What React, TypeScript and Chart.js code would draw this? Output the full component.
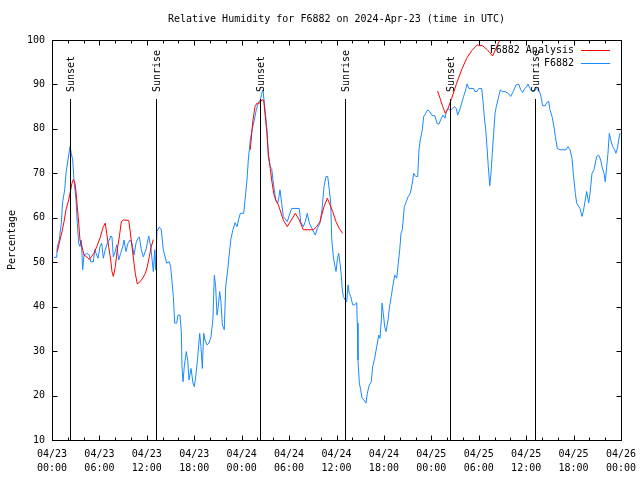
import React, { useEffect, useRef } from 'react';
import { Chart, registerables } from 'chart.js';

Chart.register(...registerables);

const TITLE = 'Relative Humidity for F6882 on 2024-Apr-23 (time in UTC)';
const Y_LABEL = 'Percentage';
const Y_MIN = 10;
const Y_MAX = 100;
const X_MIN = 0;
const X_MAX = 72;
const X_TICK_HOURS = [0, 6, 12, 18, 24, 30, 36, 42, 48, 54, 60, 66, 72];
const X_TICK_LABELS = [
  ['04/23', '00:00'], ['04/23', '06:00'], ['04/23', '12:00'], ['04/23', '18:00'],
  ['04/24', '00:00'], ['04/24', '06:00'], ['04/24', '12:00'], ['04/24', '18:00'],
  ['04/25', '00:00'], ['04/25', '06:00'], ['04/25', '12:00'], ['04/25', '18:00'],
  ['04/26', '00:00'],
];
const SUN_EVENT_HOURS = [2.32, 13.2, 26.36, 37.11, 50.4, 61.15];
const SUN_EVENT_LABELS = ['Sunset', 'Sunrise', 'Sunset', 'Sunrise', 'Sunset', 'Sunrise'];

const SERIES_NAMES = ['F6882 Analysis', 'F6882'];
const SERIES_COLORS = ['#ff0000', '#1a88ff'];

// F6882 Analysis (hours since 04/23 00:00 UTC), null = gap
const ANALYSIS_HOURS = [
  0.67, 1.01, 1.27, 1.52, 1.77, 2.11, 2.37, 2.53, 2.7, 2.87, 3.04, 3.2, 3.38, 3.54, 3.8, 4.05,
  4.39, 4.72, 4.97, 5.31, 5.66, 6.07, 6.49, 6.74, 6.92, 7.17, 7.43, 7.59, 7.76, 8.01, 8.26, 8.52,
  8.77, 9.02, 9.71, 9.87, 10.12, 10.38, 10.54, 10.79, 11.14, 11.48, 11.81, 12.06, 12.31, 12.56, 12.82,
  13.5,
  25.09, 25.27, 25.43, 25.69, 25.94, 26.28, 26.54, 26.79, 26.95, 27.2, 27.37, 27.62, 27.8, 28.05,
  28.31, 28.64, 28.85, 29.27, 29.77, 30.28, 30.79, 31.29, 31.8, 33.06, 33.49, 33.91, 34.42, 34.84,
  35.18, 35.52, 35.94, 36.35, 36.78,
  40,
  48.8, 49.1, 49.44, 49.77, 50.11, 50.58, 51.21, 51.84, 52.47, 53.11, 53.82, 54.5, 55.08, 55.76,
  56.18, 56.69, 57.2,
];
const ANALYSIS_VALUES = [
  52.4, 55, 56.9, 59.1, 61.8, 64, 66.3, 67.8, 68.6, 68.1, 65.9, 62.5, 58.8, 55, 53.5, 51.6,
  51.2, 50.6, 51.2, 52, 53.5, 55.4, 58, 58.8, 56.5, 53.5, 50.5, 47.9, 46.8, 49, 52.8, 55.7,
  59.1, 59.5, 59.4, 57.3, 53.5, 49.8, 47.5, 45.1, 45.6, 46.4, 47.5, 49, 51.2, 53.5, 55.1,
  null,
  75.3, 79, 82, 85, 85.8, 85.8, 86.5, 86.5, 83.5, 79, 74.5, 71.1, 68.5, 65.5,
  64, 62.9, 61.8, 59.5, 58, 59.5, 61, 59.5, 57.3, 57.3, 58, 59.1, 62.5, 64.4,
  62.9, 61.4, 59.1, 57.6, 56.5,
  null,
  88.5, 86.9, 85, 83.5, 84.6, 86.9, 90.3, 93.3, 95.9, 97.6, 98.9, 98.7, 97.8, 96.4,
  98.1, 100.1, 102,
];

// F6882 observations
const OBS_HOURS = [
  0.25, 0.59, 0.67, 0.92, 1.18, 1.35, 1.61, 1.77, 2.02, 2.28, 2.44, 2.62, 2.78, 3.04, 3.2, 3.38,
  3.54, 3.71, 3.88, 4.05, 4.39, 4.72, 4.9, 5.23, 5.4, 5.66, 5.82, 6.07, 6.29, 6.49, 6.74, 7.0,
  7.25, 7.43, 7.59, 7.76, 8.01, 8.19, 8.44, 8.69, 8.95, 9.11, 9.36, 9.62, 9.87, 10.12, 10.38, 10.63,
  10.88, 11.05, 11.3, 11.55, 11.89, 12.24, 12.49, 12.82, 13.0, 13.1, 13.29, 13.58, 13.83, 14.08,
  14.26, 14.51, 14.84, 15.02, 15.35, 15.53, 15.78, 15.94, 16.2, 16.36, 16.45, 16.58, 16.74, 16.99,
  17.17, 17.34, 17.59, 17.84, 18.01, 18.18, 18.44, 18.69, 18.85, 19.02, 19.2, 19.36, 19.61, 19.87,
  20.12, 20.37, 20.54, 20.71, 20.88, 21.04, 21.22, 21.38, 21.55, 21.8, 21.98, 22.23, 22.49, 22.65,
  22.9, 23.16, 23.41, 23.66, 23.83, 24.26, 24.51, 24.67, 24.84, 25.09, 25.35, 25.6, 25.85, 26.1,
  26.36, 26.54, 26.7, 26.86, 27.04, 27.2, 27.37, 27.62, 27.8, 27.96, 28.13, 28.31, 28.56, 28.72,
  28.85, 29.06, 29.27, 29.61, 29.77, 30.03, 30.33, 31.29, 31.47, 31.8, 32.05, 32.3, 32.56, 32.9,
  33.32, 33.57, 33.91, 34.16, 34.42, 34.67, 34.89, 35.09, 35.27, 35.39, 35.6, 35.77, 35.94, 36.1,
  36.28, 36.44, 36.61, 36.7, 36.86, 37.11, 37.29, 37.46, 37.62, 37.8, 38.05, 38.3, 38.56, 38.63,
  38.72, 38.89, 39.06, 39.23, 39.48, 39.73, 39.9, 40.15, 40.4, 40.58, 40.83, 41.09, 41.34, 41.5,
  41.67, 41.76, 41.92, 42.1, 42.26, 42.52, 42.68, 42.93, 43.11, 43.36, 43.62, 43.82, 44.0, 44.16,
  44.33, 44.58, 44.83, 45.08, 45.34, 45.59, 45.77, 46.02, 46.27, 46.44, 46.6, 46.86, 47.03, 47.29,
  47.54, 47.79, 48.05, 48.46, 48.72, 48.97, 49.22, 49.48, 49.73, 49.89, 50.15, 50.4, 50.65, 50.91,
  51.16, 51.33, 51.59, 51.84, 52.09, 52.35, 52.51, 52.77, 53.02, 53.36, 53.52, 53.78, 54.03, 54.37,
  54.54, 54.7, 54.88, 55.04, 55.21, 55.39, 55.55, 55.71, 55.89, 56.06, 56.22, 56.47, 56.73, 56.98,
  57.32, 57.74, 58.04, 58.37, 58.71, 59.05, 59.31, 59.56, 59.81, 60.07, 60.23, 60.48, 60.74, 60.99,
  61.33, 61.59, 61.84, 62.09, 62.42, 62.6, 62.85, 63.01, 63.27, 63.52, 63.69, 63.94, 64.28, 65.04,
  65.29, 65.55, 65.8, 65.96, 66.22, 66.39, 66.65, 66.81, 67.06, 67.23, 67.48, 67.66, 67.91, 68.08,
  68.33, 68.58, 68.92, 69.18, 69.43, 69.6, 69.85, 70.01, 70.19, 70.35, 70.52, 70.7, 70.95, 71.2,
  71.36, 71.53, 71.71, 71.87,
];
const OBS_VALUES = [
  51.1, 51.1, 53.5, 55, 58.8, 63.6, 66.3, 70, 73, 76, 74.5, 73, 68.5, 64, 58.8, 54.3,
  53.5, 55, 48.3, 51.6, 52, 51.6, 50.1, 50.1, 52.8, 51.6, 50.9, 53.5, 54.3, 50.9, 52.8, 54.3,
  55, 55.9, 55.7, 51.2, 52.4, 53.9, 50.5, 52, 53.5, 55, 52.4, 54.3, 55, 54.3, 51.6, 54.3,
  55.4, 55.7, 52.8, 51.2, 52.8, 55.9, 53.5, 47.9, 52.8, 48.3, 57, 57.9, 57.3, 52.8,
  51.6, 49.8, 50.1, 49, 42.3, 36.3, 36.3, 38.1, 38.1, 34.4, 26.5, 23.1, 26.5, 29.9,
  28, 23.5, 26.1, 22.8, 22, 24.2, 28.7, 34, 31, 26.1, 34, 32.5, 31.4, 31.8,
  33.2, 37.4, 47.1, 44.5, 38.1, 40, 43.4, 41.1, 35.9, 34.8, 44.5, 48.3, 52.8, 55.4,
  57.3, 58.9, 58, 59.9, 61, 61, 65.5, 68.5, 73, 77.5, 80.1, 82, 84.3, 85.8,
  86.5, 88, 88.8, 85.8, 82.8, 79.8, 73.8, 71.5, 71.1, 68.5, 66.3, 64, 63.3, 64.8,
  66.3, 63.3, 60.3, 59.5, 59.1, 60.6, 62.1, 62.1, 59.1, 58, 59.1, 61, 58.8, 57.6,
  56.1, 57.6, 58.8, 61.8, 67, 69.3, 69.3, 66.3, 63.3, 55.4, 51.2, 49.4, 47.9, 50.5,
  52, 49.8, 47.1, 44.5, 42.3, 41.5, 41.1, 44.9, 43, 42.3, 40.4, 40.4, 40.9, 36.3,
  28, 22.8, 21.3, 19.4, 19, 18.3, 20.5, 22.4, 23.1, 26.5, 28.4, 31, 33.6, 32.9,
  37, 40.8, 38.5, 35.5, 34.4, 37, 39.6, 42.3, 44.5, 47.1, 46.4, 49.8, 52.8, 56.5,
  57.3, 62.5, 63.6, 64.8, 65.5, 67.8, 70, 69.3, 69.3, 75.3, 77.5, 79.8, 82.8, 83.5,
  84.3, 83.9, 83.1, 82.9, 81.2, 81.1, 82.2, 83.1, 82.4, 83.9, 84.6, 84.1, 84.6, 85,
  84.6, 83.1, 84.3, 85.8, 87.3, 88.8, 90.1, 89.1, 89.1, 89.1, 88.4, 88.4, 89.1, 89.1,
  86.2, 82.8, 79.8, 76, 71.5, 67.2, 70, 74.5, 79, 83.5, 85, 86.9, 88.8, 88.4,
  88.4, 88, 87.3, 88.4, 89.9, 90.1, 88.8, 88.2, 89.1, 89.5, 90.1, 89.1, 88.4, 88.4,
  89.1, 88.8, 87.6, 85.2, 85.2, 85.9, 86.2, 84.3, 82.8, 80.5, 78.3, 75.6, 75.3, 75.3,
  76, 75.3, 73.4, 70, 65.5, 63.3, 62.5, 62.1, 60.3, 61.4, 64, 65.9, 63.3, 65.5,
  70, 70.8, 73.8, 74.1, 73, 71.5, 70, 68.1, 71.5, 74.5, 79, 77.5, 76, 75.3,
  74.5, 75.6, 77.5, 79,
];

const FONT = "'DejaVu Sans Mono', monospace";

const toPoints = (xs: number[], ys: (number | null)[]) => xs.map((x, i) => ({ x, y: ys[i] }));

const overlayPlugin = {
  id: 'gnuplotOverlay',
  afterDatasetsDraw(chart: any) {
    const { ctx, chartArea: ca, scales } = chart;
    const x = scales.x;
    const y = scales.y;
    ctx.save();
    ctx.strokeStyle = '#000';
    ctx.fillStyle = '#000';
    ctx.lineWidth = 1;
    ctx.font = `10px ${FONT}`;

    // frame
    const L = Math.round(ca.left) + 0.5;
    const R = Math.round(ca.right) + 0.5;
    const T = Math.round(ca.top) + 0.5;
    const B = Math.round(ca.bottom) + 0.5;
    ctx.strokeRect(L, T, R - L, B - T);

    // x ticks (major every 6h, minor every 2h) on bottom and top, pointing inward
    ctx.beginPath();
    for (let h = X_MIN; h <= X_MAX; h += 2) {
      const len = h % 6 === 0 ? 5 : 3;
      const px = Math.round(x.getPixelForValue(h)) + 0.5;
      ctx.moveTo(px, B);
      ctx.lineTo(px, B - len);
      ctx.moveTo(px, T);
      ctx.lineTo(px, T + len);
    }
    // y ticks left and right
    for (let v = Y_MIN; v <= Y_MAX; v += 10) {
      const py = Math.round(y.getPixelForValue(v)) + 0.5;
      ctx.moveTo(L, py);
      ctx.lineTo(L + 5, py);
      ctx.moveTo(R, py);
      ctx.lineTo(R - 5, py);
    }
    ctx.stroke();

    // sunrise / sunset markers
    SUN_EVENT_HOURS.forEach((h, i) => {
      const px = Math.round(x.getPixelForValue(h)) + 0.5;
      ctx.beginPath();
      ctx.moveTo(px, ca.top + 59);
      ctx.lineTo(px, B);
      ctx.stroke();
      ctx.save();
      ctx.translate(px + 1, ca.top + 52);
      ctx.rotate(-Math.PI / 2);
      ctx.textAlign = 'left';
      ctx.textBaseline = 'middle';
      ctx.fillText(SUN_EVENT_LABELS[i], 0, 0);
      ctx.restore();
    });

    // title
    ctx.textAlign = 'center';
    ctx.textBaseline = 'middle';
    ctx.fillText(TITLE, (ca.left + ca.right) / 2, 19);

    // legend (gnuplot style: right-aligned text, then line sample)
    SERIES_NAMES.forEach((name, i) => {
      const ly = ca.top + 10 + i * 13;
      ctx.textAlign = 'right';
      ctx.fillStyle = '#000';
      ctx.fillText(name, ca.right - 47, ly);
      ctx.strokeStyle = SERIES_COLORS[i];
      ctx.beginPath();
      ctx.moveTo(ca.right - 40, Math.round(ly) + 0.5);
      ctx.lineTo(ca.right - 11, Math.round(ly) + 0.5);
      ctx.stroke();
    });
    ctx.restore();
  },
};

export default function App() {
  const canvasRef = useRef<HTMLCanvasElement | null>(null);

  useEffect(() => {
    if (!canvasRef.current) return;
    Chart.defaults.font.family = FONT;
    Chart.defaults.font.size = 10;
    Chart.defaults.color = '#000';
    const chart = new Chart(canvasRef.current, {
      type: 'line',
      data: {
        datasets: [
          {
            label: SERIES_NAMES[0],
            data: toPoints(ANALYSIS_HOURS, ANALYSIS_VALUES),
            borderColor: SERIES_COLORS[0],
            backgroundColor: SERIES_COLORS[0],
            borderWidth: 1,
            pointRadius: 0,
            tension: 0,
            spanGaps: false,
          },
          {
            label: SERIES_NAMES[1],
            data: toPoints(OBS_HOURS, OBS_VALUES),
            borderColor: SERIES_COLORS[1],
            backgroundColor: SERIES_COLORS[1],
            borderWidth: 1,
            pointRadius: 0,
            tension: 0,
          },
        ],
      },
      options: {
        responsive: false,
        animation: false,
        events: [],
        layout: { padding: { left: 0, right: 19, top: 40, bottom: 0 } },
        plugins: {
          legend: { display: false },
          title: { display: false },
          tooltip: { enabled: false },
        },
        scales: {
          x: {
            type: 'linear',
            min: X_MIN,
            max: X_MAX,
            grid: { display: false, drawTicks: false },
            border: { display: false },
            afterFit: (s: any) => {
              s.height = 40;
              s.paddingLeft = 0;
              s.paddingRight = 0;
            },
            afterBuildTicks: (s: any) => { s.ticks = X_TICK_HOURS.map((v) => ({ value: v })); },
            ticks: {
              autoSkip: false,
              maxRotation: 0,
              minRotation: 0,
              padding: 7,
              font: { family: FONT, size: 10, lineHeight: 1.4 },
              callback: (value: any) => {
                const i = X_TICK_HOURS.indexOf(Number(value));
                return i >= 0 ? X_TICK_LABELS[i] : '';
              },
            },
          },
          y: {
            type: 'linear',
            min: Y_MIN,
            max: Y_MAX,
            grid: { display: false, drawTicks: false },
            border: { display: false },
            afterFit: (s: any) => {
              s.width = 52;
              s.paddingTop = 0;
              s.paddingBottom = 0;
            },
            ticks: { stepSize: 10, padding: 7, font: { family: FONT, size: 10 } },
            title: {
              display: true,
              text: Y_LABEL,
              font: { family: FONT, size: 10 },
              padding: { top: 6, bottom: 0 },
            },
          },
        },
      },
      plugins: [overlayPlugin],
    });
    return () => chart.destroy();
  }, []);

  return (
    <div style={{ position: 'absolute', left: 0, top: 0, width: 640, height: 480, background: '#fff' }}>
      <canvas ref={canvasRef} width={640} height={480} />
    </div>
  );
}
